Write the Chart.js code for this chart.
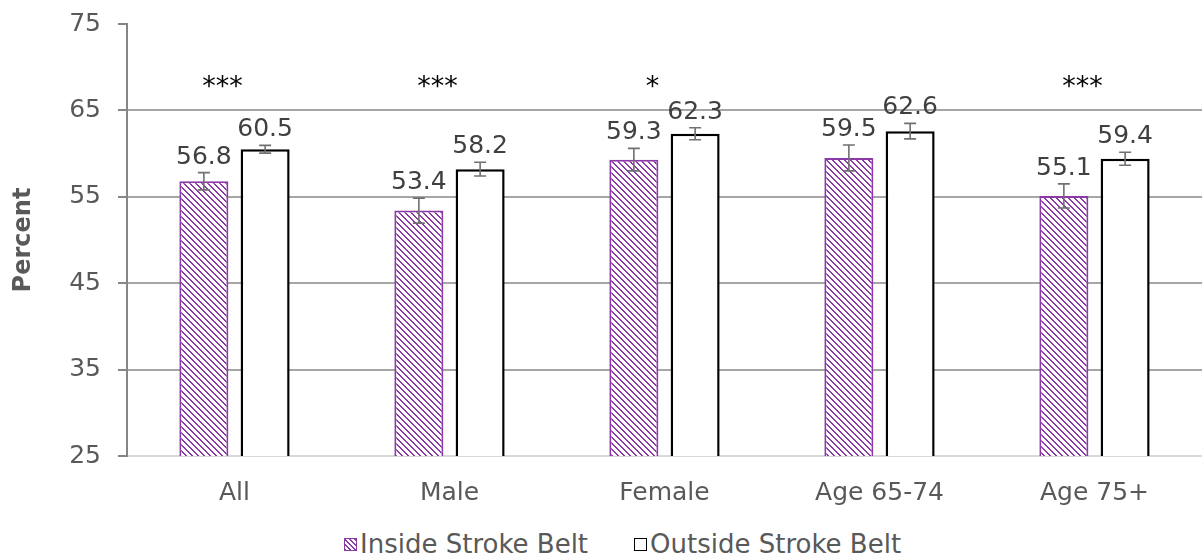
<!DOCTYPE html>
<html>
<head>
<meta charset="utf-8">
<script src="https://cdn.jsdelivr.net/npm/chart.js@4.4.0/dist/chart.umd.min.js"></script>
<style>
    body { margin: 0; background: #fff; }
    #wrap { position: relative; width: 1202px; height: 556px; }
    #box { position: absolute; left: 0; top: 0; width: 1202px; height: 520px; }
    #legend { position: absolute; left: 344px; top: 528px; height: 32px; display: flex; align-items: center;
              font: 26px "DejaVu Sans"; color: #595959; white-space: nowrap; }
    .sw { width: 11px; height: 11px; display: inline-block; margin-right: 3px; }
    .sw.in { border: 1.5px solid #8B3AA8;
             background: repeating-linear-gradient(45deg, #8B3AA8 0 1.2px, #fff 1.2px 3.5px); }
    .sw.out { border: 1.5px solid #000; background: #fff; margin-left: 46px; }
</style>
</head>
<body>
<div id="wrap">
    <div id="box"><canvas id="chart"></canvas></div>
    <div id="legend">
        <span class="sw in"></span><span>Inside Stroke Belt</span>
        <span class="sw out"></span><span>Outside Stroke Belt</span>
    </div>
</div>
<script>
// Stroke belt comparison, percent with error bars

const categories = ['All', 'Male', 'Female', 'Age 65-74', 'Age 75+'];
const insideValues = [56.8, 53.4, 59.3, 59.5, 55.1];
const insideErrors = [1.0, 1.45, 1.3, 1.5, 1.4];
const outsideValues = [60.5, 58.2, 62.3, 62.6, 59.4];
const outsideErrors = [0.45, 0.8, 0.7, 0.9, 0.75];
const significance = ['***', '***', '*', '', '***'];
const yTicks = [25, 35, 45, 55, 65, 75];

const PURPLE = '#8B3AA8';
const FONT = '"DejaVu Sans", Verdana, sans-serif';

// Diagonal hatch fill for the inside bars
function makeHatch() {
    const c = document.createElement('canvas');
    c.width = 6;
    c.height = 6;
    const g = c.getContext('2d');
    g.fillStyle = '#fff';
    g.fillRect(0, 0, 6, 6);
    g.fillStyle = PURPLE;
    for (let i = 0; i < 6; i++) {
        g.fillRect(i, i, 1, 1);
        g.fillRect((i + 1) % 6, i, 1, 1);
    }
    return g.createPattern(c, 'repeat');
}

const errors = [insideErrors, outsideErrors];

// Error bars, value labels and significance stars
const annotate = {
    id: 'annotate',
    afterDatasetsDraw(chart) {
        const ctx = chart.ctx;
        const y = chart.scales.y;
        const x = chart.scales.x;
        ctx.save();
        chart.data.datasets.forEach((ds, di) => {
            const meta = chart.getDatasetMeta(di);
            meta.data.forEach((bar, i) => {
                const v = ds.data[i];
                const e = errors[di][i];
                const top = y.getPixelForValue(v + e);
                const bot = y.getPixelForValue(v - e);
                ctx.strokeStyle = '#707070';
                ctx.lineWidth = 1.6;
                ctx.beginPath();
                ctx.moveTo(bar.x, top);
                ctx.lineTo(bar.x, bot);
                ctx.moveTo(bar.x - 6, top);
                ctx.lineTo(bar.x + 6, top);
                ctx.moveTo(bar.x - 6, bot);
                ctx.lineTo(bar.x + 6, bot);
                ctx.stroke();

                ctx.fillStyle = '#404040';
                ctx.font = '25px ' + FONT;
                ctx.textAlign = 'center';
                ctx.textBaseline = 'alphabetic';
                ctx.fillText(v.toFixed(1), bar.x, top - 9);
            });
        });
        ctx.fillStyle = '#000';
        ctx.font = '27px ' + FONT;
        ctx.textAlign = 'center';
        ctx.textBaseline = 'alphabetic';
        significance.forEach((s, i) => {
            if (!s) return;
            ctx.fillText(s, x.getPixelForValue(i) - 12, y.getPixelForValue(66.8));
        });
        ctx.restore();
    }
};

new Chart(document.getElementById('chart'), {
    type: 'bar',
    data: {
        labels: categories,
        datasets: [{
            label: 'Inside Stroke Belt',
            data: insideValues,
            backgroundColor: makeHatch(),
            borderColor: PURPLE,
            borderWidth: 2,
            categoryPercentage: 0.57,
            barPercentage: 0.8
        }, {
            label: 'Outside Stroke Belt',
            data: outsideValues,
            backgroundColor: '#fff',
            borderColor: '#000',
            borderWidth: 2.5,
            categoryPercentage: 0.57,
            barPercentage: 0.8
        }]
    },
    options: {
        responsive: true,
        maintainAspectRatio: false,
        animation: false,
        layout: { padding: { top: 24, right: -10, left: 0, bottom: 0 } },
        plugins: {
            legend: { display: false },
            tooltip: { enabled: false }
        },
        scales: {
            x: {
                afterFit: s => { s.height = 64; s.paddingLeft = 0; s.paddingRight = 0; },
                grid: { display: false },
                border: { color: '#d9d9d9', width: 2 },
                ticks: {
                    color: '#595959',
                    padding: 14,
                    font: { family: FONT, size: 25 }
                }
            },
            y: {
                min: 25,
                max: 75,
                afterFit: s => { s.width = 127; s.paddingTop = 0; s.paddingBottom = 0; },
                afterBuildTicks: s => { s.ticks = yTicks.map(v => ({ value: v })); },
                grid: {
                    lineWidth: 2,
                    tickLength: 9,
                    tickColor: '#868686',
                    color: c => (c.tick && (c.tick.value === 75 || c.tick.value === 25)) ? 'rgba(0,0,0,0)' : '#a6a6a6'
                },
                border: { color: '#868686', width: 2 },
                ticks: {
                    color: '#595959',
                    padding: 17,
                    font: { family: FONT, size: 25 }
                },
                title: {
                    display: true,
                    text: 'Percent',
                    color: '#595959',
                    padding: { top: 9, bottom: 0 },
                    font: { family: FONT, size: 24, weight: 'bold' }
                }
            }
        }
    },
    plugins: [annotate]
});
</script>
</body>
</html>
